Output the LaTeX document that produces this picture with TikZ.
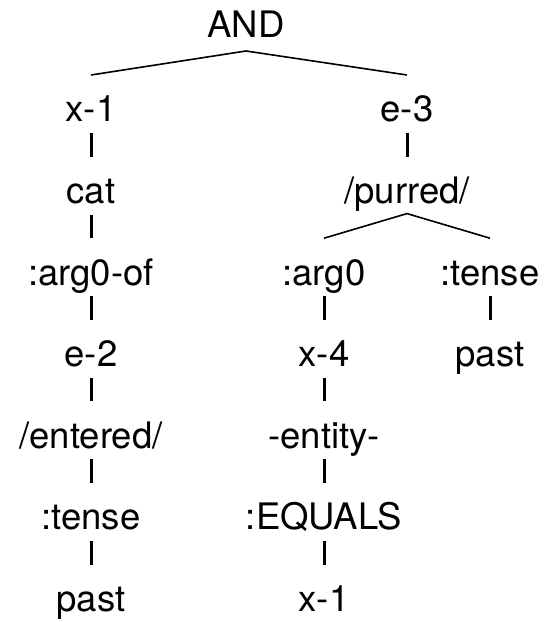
\documentclass[tikz,border=0pt]{standalone}
\usepackage{fontspec}
\setmainfont{TeX Gyre Heros}
\begin{document}
\begin{tikzpicture}[x=1pt,y=1pt,
  lbl/.style={inner sep=0pt,anchor=base,font=\fontsize{36.5}{44}\selectfont},
  vlink/.style={line width=3pt},
  blink/.style={line width=1.6pt}]
\useasboundingbox (0,0) rectangle (544,622);
\node[lbl] (and) at (246,584) {AND};
\node[lbl] (x1a) at (91,500) {x-1};
\node[lbl] (e3) at (407,500) {e-3};
\node[lbl] (cat) at (91,418.4) {cat};
\node[lbl] (purred) at (407,418.4) {/purred/};
\node[lbl] (arg0of) at (91,336.8) {:arg0-of};
\node[lbl] (arg0) at (324,336.8) {:arg0};
\node[lbl] (tense1) at (490,336.8) {:tense};
\node[lbl] (e2) at (91,255.2) {e-2};
\node[lbl] (x4) at (324,255.2) {x-4};
\node[lbl] (past1) at (490,255.2) {past};
\node[lbl] (entered) at (91,173.6) {/entered/};
\node[lbl] (entity) at (324,173.6) {-entity-};
\node[lbl] (tense2) at (91,92) {:tense};
\node[lbl] (equals) at (324,92) {:EQUALS};
\node[lbl] (past2) at (91,10.4) {past};
\node[lbl] (x1b) at (324,10.4) {x-1};
% branches
\draw[blink] ([yshift=47pt]x1a.base) -- ([yshift=-13pt]and.base) -- ([yshift=47pt]e3.base);
\draw[blink] ([yshift=47pt]arg0.base) -- ([yshift=-10pt]purred.base) -- ([yshift=47pt]tense1.base);
% vertical links
\foreach \a/\b in {x1a/cat,cat/arg0of,arg0of/e2,e2/entered,entered/tense2,tense2/past2,
  e3/purred,arg0/x4,x4/entity,entity/equals,equals/x1b,tense1/past1}
  \draw[vlink] ([yshift=-11pt]\a.base) -- ([yshift=47pt]\b.base);
\end{tikzpicture}
\end{document}
